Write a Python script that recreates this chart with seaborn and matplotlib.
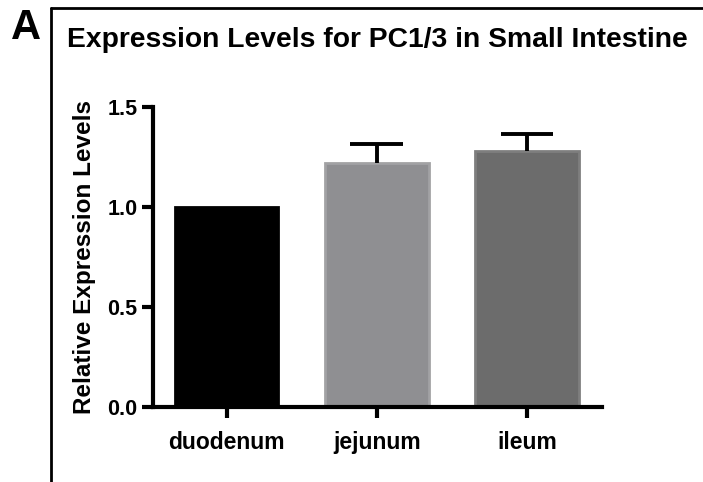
import matplotlib
matplotlib.use("Agg")
import matplotlib.pyplot as plt
from matplotlib.lines import Line2D
import seaborn as sns
import pandas as pd

# data
tissues = ["duodenum", "jejunum", "ileum"]
means = [1.0, 1.22, 1.28]
upper_err = [0.0, 0.095, 0.085]
fill_colors = ["#000000", "#8e8e92", "#6c6c6c"]
edge_colors = ["#000000", "#a2a2a4", "#7e7e7e"]
y_ticks = [0.0, 0.5, 1.0, 1.5]

sns.set_style("white")
plt.rcParams["font.family"] = ["Liberation Sans", "DejaVu Sans"]
plt.rcParams["font.weight"] = "bold"
plt.rcParams["text.color"] = "black"
plt.rcParams["axes.labelcolor"] = "black"
plt.rcParams["xtick.color"] = "black"
plt.rcParams["ytick.color"] = "black"

df = pd.DataFrame({"tissue": tissues, "value": means})

fig = plt.figure(figsize=(7.03, 4.82), dpi=100)
ax = fig.add_axes([153 / 703, 1 - 407 / 482, (602 - 153) / 703, (407 - 107) / 482])

sns.barplot(data=df, x="tissue", y="value", hue="tissue", palette=fill_colors,
            width=0.69, legend=False, ax=ax, zorder=2)
for patch, ec in zip(ax.patches, edge_colors):
    patch.set_edgecolor(ec)
    patch.set_linewidth(2)

# one-sided error bars (upper only), none for the reference group
cap = 0.175
for i, (m, e) in enumerate(zip(means, upper_err)):
    if e > 0:
        ax.vlines(i, m, m + e, color="black", lw=2.8, zorder=3)
        ax.hlines(m + e, i - cap, i + cap, color="black", lw=2.8, zorder=3)

ax.set_xlim(-0.49, 2.5)
ax.set_ylim(0, 1.5)
ax.set_yticks(y_ticks)
ax.set_yticklabels([f"{t:.1f}" for t in y_ticks])
ax.set_xlabel("")
ax.set_ylabel("Relative Expression Levels", fontsize=17.5, fontweight="bold",
              labelpad=8, color="black")
ax.set_title("Expression Levels for PC1/3 in Small Intestine",
             fontsize=20.3, fontweight="bold", pad=43, color="black")

for side in ["top", "right"]:
    ax.spines[side].set_visible(False)
for side in ["left", "bottom"]:
    ax.spines[side].set_linewidth(3)
    ax.spines[side].set_color("black")
ax.tick_params(axis="both", direction="out", length=8, width=3, color="black",
               labelcolor="black", pad=3, left=True, bottom=True)
ax.tick_params(axis="y", labelsize=15.5)
ax.tick_params(axis="x", labelsize=16.5, pad=9)
for lbl in ax.get_xticklabels() + ax.get_yticklabels():
    lbl.set_fontweight("bold")

# panel frame and letter
fig.add_artist(Line2D([51 / 703, 51 / 703], [0, 1 - 8 / 482], color="black", lw=2))
fig.add_artist(Line2D([51 / 703, 1], [1 - 8 / 482, 1 - 8 / 482], color="black", lw=2))
fig.text(11 / 703, 1 - 39 / 482, "A", fontsize=30, fontweight="bold", color="black")

fig.savefig("out.png", dpi=100)
